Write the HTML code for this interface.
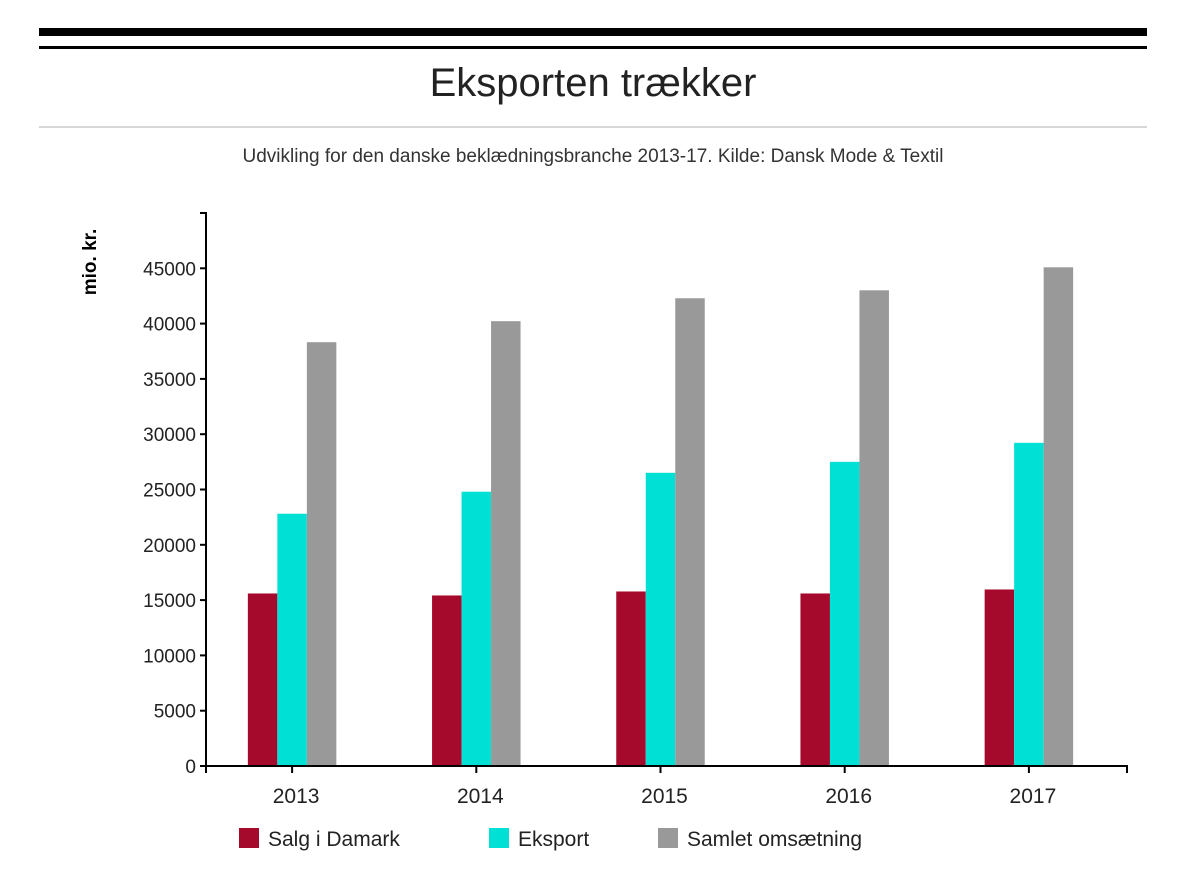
<!DOCTYPE html>
<html><head><meta charset="utf-8"><style>
body{margin:0;background:#fff;font-family:"Liberation Sans",Arial,sans-serif;}
svg text{font-family:"Liberation Sans",Arial,sans-serif;}
</style></head><body>
<svg width="1200" height="887" xmlns="http://www.w3.org/2000/svg" id="chart">
<rect x="39" y="28" width="1108" height="8" fill="#000"/>
<rect x="39" y="46" width="1108" height="3" fill="#000"/>
<text x="593" y="96" font-size="40" text-anchor="middle" fill="#222">Eksporten trækker</text>
<rect x="39" y="126" width="1108" height="2" fill="#d8d8d8"/>
<text x="593" y="162" font-size="19" text-anchor="middle" fill="#333">Udvikling for den danske beklædningsbranche 2013-17. Kilde: Dansk Mode &amp; Textil</text>
<text transform="translate(96,262) rotate(-90)" font-size="19" font-weight="bold" text-anchor="middle" fill="#000">mio. kr.</text>
<g id="plot"></g>
<g>
<rect x="239" y="828" width="20" height="20" fill="#a50a2c"/>
<text x="268" y="846" font-size="21" fill="#222">Salg i Damark</text>
<rect x="489" y="828" width="20" height="20" fill="#00e0d5"/>
<text x="518" y="846" font-size="21" fill="#222">Eksport</text>
<rect x="658" y="828" width="20" height="20" fill="#999999"/>
<text x="687" y="846" font-size="21" fill="#222">Samlet omsætning</text>
</g>
</svg>
<script>
const categories = ["2013","2014","2015","2016","2017"];
const salg = [15600,15420,15780,15600,15960];
const eksport = [22810,24800,26510,27500,29220];
const samlet = [38320,40220,42290,43010,45090];
const yTicks = [0,5000,10000,15000,20000,25000,30000,35000,40000,45000];

const NS="http://www.w3.org/2000/svg";
const g=document.getElementById('plot');
const x0=206,x1=1127,y0=766,yTop=213,yMax=50000;
const step=(x1-x0)/categories.length;
function yScale(v){return y0-(y0-yTop)*v/yMax;}
function xCenter(i){return x0+step*(i+0.5)-6;}
function mk(tag,attrs){const e=document.createElementNS(NS,tag);for(const k in attrs)e.setAttribute(k,attrs[k]);g.appendChild(e);return e;}
const series=[[salg,'#a50a2c','salg'],[eksport,'#00e0d5','eksport'],[samlet,'#999999','samlet']];
const bw=29.5;
categories.forEach((c,i)=>{
  series.forEach((s,j)=>{
    const v=s[0][i];
    const r=mk('rect',{x:xCenter(i)-bw*1.5+j*bw,y:yScale(v),width:bw,height:y0-yScale(v),fill:s[1]});
    
    
  });
});
// y axis
let a=mk('path',{d:`M${x0-6},${yTop}H${x0}V${y0}`,stroke:'#000','stroke-width':2,fill:'none'});


yTicks.forEach(t=>{
  const y=yScale(t);
  const l=mk('line',{x1:x0-6,x2:x0,y1:y,y2:y,stroke:'#000','stroke-width':2});
  
  
  const tx=mk('text',{x:x0-10,y:y+7,'font-size':19,'text-anchor':'end',fill:'#222'});
  tx.textContent=t;
  
  
});
// x axis
let b=mk('path',{d:`M${x0},${y0+7}V${y0}H${x1}V${y0+7}`,stroke:'#000','stroke-width':2,fill:'none'});


categories.forEach((c,i)=>{
  const x=xCenter(i);
  const l=mk('line',{x1:x,x2:x,y1:y0,y2:y0+7,stroke:'#000','stroke-width':2});
  
  
  const tx=mk('text',{x:x+4,y:y0+37,'font-size':21,'text-anchor':'middle',fill:'#222'});
  tx.textContent=c;
  
  
});
</script>
</body></html>
